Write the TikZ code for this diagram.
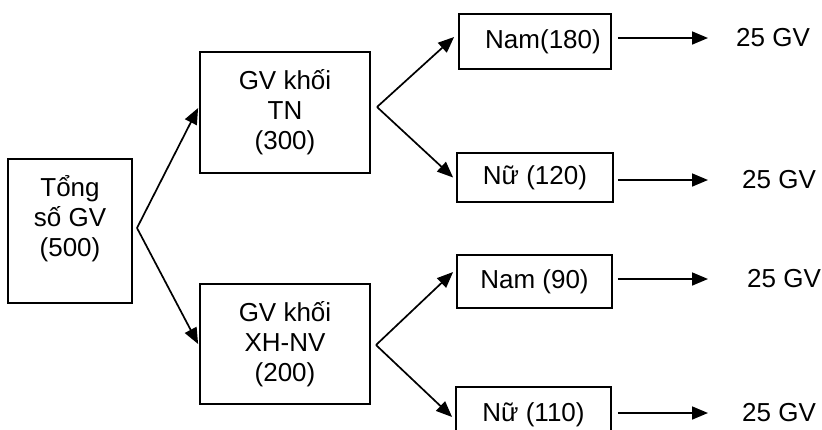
\documentclass[tikz,border=0pt]{standalone}
\usepackage{fontspec}
\setmainfont{Liberation Sans}
\usetikzlibrary{arrows.meta}
\begin{document}
\begin{tikzpicture}[x=1pt,y=-1pt,
  box/.style={draw, line width=1.8pt, align=center, inner sep=0pt, font=\fontsize{26}{30}\selectfont},
  lbl/.style={inner sep=0pt, anchor=west, font=\fontsize{26}{30}\selectfont},
  arr/.style={line width=1.7pt, -{Triangle[length=16pt,width=13pt]}}]
\useasboundingbox (0,0) rectangle (822,429);
\clip (0,0) rectangle (822,429);
% boxes
\node[box, minimum width=124pt, minimum height=144pt] (tot) at (70,231) {Tổng\\số GV\\(500)\\\rule{0pt}{14pt}};
\node[box, minimum width=170pt, minimum height=121pt] (tn) at (285,112.5) {GV khối\\TN\\(300)};
\node[box, minimum width=170pt, minimum height=120pt] (xh) at (285,344) {GV khối\\XH-NV\\(200)};
\node[box, minimum width=152pt, minimum height=55pt] (n1) at (535,41.5) {\hspace*{16pt}Nam(180)};
\node[box, minimum width=156pt, minimum height=49pt] (n2) at (535,177.5) {Nữ (120)};
\node[box, minimum width=155pt, minimum height=53pt] (n3) at (534.5,281.5) {Nam (90)};
\node[box, minimum width=155pt, minimum height=55pt] (n4) at (533.5,414.5) {Nữ (110)};
% labels
\node[lbl] (g1) at (736,38) {25 GV};
\node[lbl] (g2) at (742,180) {25 GV};
\node[lbl] (g3) at (747,279) {25 GV};
\node[lbl] (g4) at (742,413) {25 GV};
% branch points
\coordinate (c1) at (137,228);
\coordinate (c2) at (377,107);
\coordinate (c3) at (376,345);
% branch arrows
\draw[arr] (c1) -- ([yshift=4.5pt,xshift=-1pt]tn.west);
\draw[arr] (c1) -- ([xshift=-1pt]xh.west);
\draw[arr] (c2) -- ([yshift=4.5pt,xshift=-4pt]n1.west);
\draw[arr] (c2) -- ([xshift=-3pt]n2.west);
\draw[arr] (c3) -- ([yshift=9.5pt,xshift=-3pt]n3.west);
\draw[arr] (c3) -- ([yshift=-2.5pt,xshift=-3pt]n4.west);
% horizontal arrows
\draw[arr, shorten <=6pt, shorten >=28pt] (n1.east |- g1.west) -- (g1.west);
\draw[arr, shorten <=4pt, shorten >=34pt] (n2.east |- g2.west) -- (g2.west);
\draw[arr, shorten <=5pt, shorten >=39pt] (n3.east |- g3.west) -- (g3.west);
\draw[arr, shorten <=6pt, shorten >=34pt] (n4.east |- g4.west) -- (g4.west);
\end{tikzpicture}
\end{document}
